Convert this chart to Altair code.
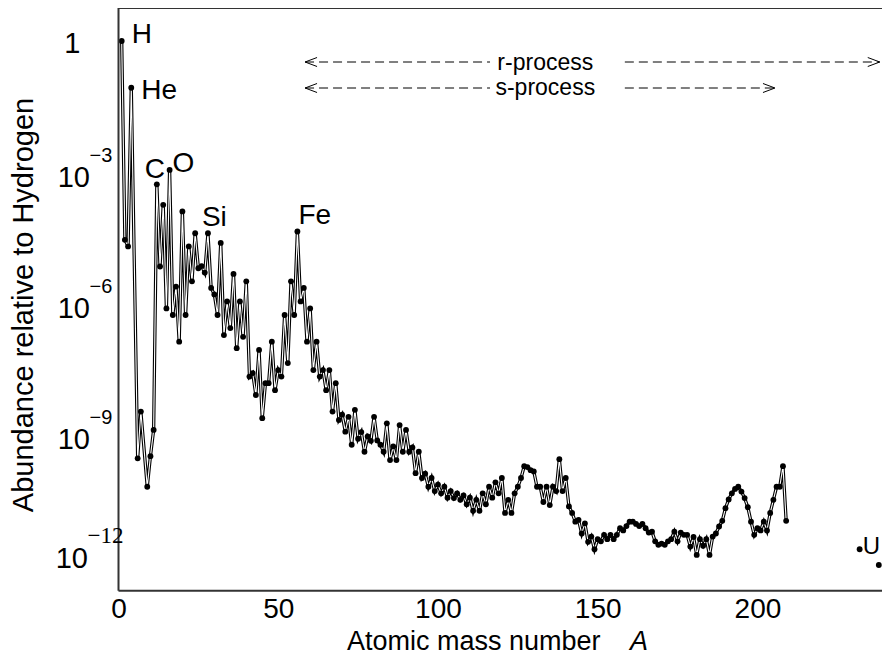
import altair as alt
import pandas as pd

# ---------------- data ----------------
# abundance relative to hydrogen, given as log10 values, by mass number A
mass_light = [1, 2, 3, 4, 6, 7]
log_light = [0.0, -4.55, -4.7, -1.07, -9.55, -8.48]

# A = 9 ... 209
mass_main = list(range(9, 210))
log_main = [
    -10.2, -9.5, -8.9, -3.28, -5.16, -3.75, -6.12, -2.95, -6.27, -5.62, -6.88,   # 9-19
    -3.9, -6.27, -4.7, -5.5, -4.4, -5.2, -5.15, -5.3, -4.4, -5.65,              # 20-29
    -5.8, -6.27, -4.62, -6.73, -5.96, -6.57, -5.33, -7.03, -5.96, -6.77,        # 30-39
    -5.5, -7.68, -7.6, -8.1, -7.07, -8.63, -7.83, -7.83, -6.88, -7.99,          # 40-49
    -7.53, -7.68, -6.27, -7.37, -5.5, -6.27, -4.36, -5.96, -5.65, -6.88,        # 50-59
    -6.12, -7.53, -6.88, -7.68, -7.53, -7.99, -7.53, -8.48, -7.83, -8.67,       # 60-69
    -8.55, -8.94, -8.6, -9.24, -8.44, -9.1, -8.95, -9.4, -9.05, -9.15,          # 70-79
    -8.6, -9.14, -9.24, -9.4, -8.75, -9.59, -9.28, -9.59, -8.79, -9.4,          # 80-89
    -8.9, -9.4, -9.3, -9.89, -9.4, -10.0, -9.9, -10.2, -10.0, -10.3,            # 90-99
    -10.15, -10.35, -10.2, -10.45, -10.3, -10.46, -10.35, -10.5, -10.4, -10.6,  # 100-109
    -10.45, -10.75, -10.5, -10.75, -10.35, -10.6, -10.2, -10.45, -10.1, -10.35, # 110-119
    -10.0, -10.8, -10.5, -10.8, -10.35, -10.2, -10.0, -9.73, -9.75, -9.82,      # 120-129
    -9.85, -10.2, -10.2, -10.55, -10.2, -10.62, -10.2, -10.3, -9.57, -10.3,     # 130-139
    -10.0, -10.65, -10.8, -11.0, -10.96, -11.27, -11.04, -11.46, -11.34, -11.63,  # 140-149
    -11.4, -11.45, -11.3, -11.4, -11.3, -11.4, -11.3, -11.15, -11.2, -11.1,     # 150-159
    -11.0, -11.0, -11.05, -11.1, -11.05, -11.15, -11.25, -11.23, -11.45, -11.53,  # 160-169
    -11.5, -11.53, -11.45, -11.4, -11.23, -11.45, -11.25, -11.3, -11.3, -11.57,   # 170-179
    -11.35, -11.76, -11.4, -11.55, -11.4, -11.76, -11.34, -11.27, -11.11, -10.98, # 180-189
    -10.69, -10.49, -10.35, -10.25, -10.2, -10.31, -10.46, -10.67, -11.0, -11.3,  # 190-199
    -11.15, -11.2, -11.0, -11.2, -10.8, -10.5, -10.2, -10.2, -9.73, -10.98,       # 200-209
]

# thorium and uranium, shown unconnected
mass_actinide = [232, 238]
log_actinide = [-11.63, -11.99]

# element labels
element_names = ["H", "He", "C", "O", "Si", "Fe", "U"]
element_mass = [1, 4, 12, 16, 28, 56, 238]

# axis ticks
x_tick_values = [0, 50, 100, 150, 200]
y_exponents = [-3, -6, -9]
y_exponent_text = ["\u22123", "\u22126", "\u22129"]

# process ranges (in A)
process_names = ["r-process", "s-process"]
process_start = [58.4, 58.4]
process_gap_left = [116.3, 116.3]
process_gap_right = [158.5, 158.5]
process_end = [238.3, 205.5]

# ---------------- tables ----------------
df = pd.DataFrame({"A": mass_light + mass_main, "logab": log_light + log_main})
df_act = pd.DataFrame({"A": mass_actinide, "logab": log_actinide})
lookup = dict(zip(df["A"], df["logab"]))
lookup.update(dict(zip(mass_actinide, log_actinide)))

W = 763.5
H = 582.7
FONT = "Liberation Sans"

xs = alt.Scale(domain=[0, 239], nice=False, zero=False)
ys = alt.Scale(domain=[-12.579, 0.755], nice=False, zero=False)

x_enc = alt.X(
    "A:Q", scale=xs,
    axis=alt.Axis(values=x_tick_values, ticks=False, domain=False, grid=False,
                  labelFont=FONT, labelFontSize=28, labelColor="black",
                  labelPadding=4.5, title=None, labelFlush=False),
)
y_enc = alt.Y("logab:Q", scale=ys, axis=None)

base = alt.Chart(df)
line_black = base.mark_line(color="black", strokeWidth=3.3).encode(x=x_enc, y=y_enc, order="A:Q")
line_white = base.mark_line(color="white", strokeWidth=1.1).encode(x=x_enc, y=y_enc, order="A:Q")
pts = base.mark_point(shape="circle", filled=True, size=34, color="black", opacity=1).encode(x=x_enc, y=y_enc)
pts_act = alt.Chart(df_act).mark_point(shape="circle", filled=True, size=34, color="black",
                                        opacity=1).encode(x=x_enc, y=y_enc)

one = alt.Data(values=[{"k": 0}])

# frame (left, top, bottom)
frame_left = alt.Chart(one).mark_rule(color="#333333", strokeWidth=2).encode(
    x=alt.value(0), y=alt.value(0), y2=alt.value(H))
frame_top = alt.Chart(one).mark_rule(color="#333333", strokeWidth=2).encode(
    x=alt.value(0), x2=alt.value(W), y=alt.value(0))
frame_bottom = alt.Chart(one).mark_rule(color="#333333", strokeWidth=2).encode(
    x=alt.value(0), x2=alt.value(W), y=alt.value(H))

# element labels
label_offsets = {  # dx, dy, font size relative to the element's point
    "H": (10, 2, 28), "He": (10, 11, 28), "C": (-12, -6, 28), "O": (3, 2, 28),
    "Si": (-6, -7, 28), "Fe": (1, -8, 28), "U": (-16, -11, 24),
}
elem_layers = []
for name, a in zip(element_names, element_mass):
    dx, dy, fs = label_offsets[name]
    d = pd.DataFrame({"A": [a], "logab": [lookup[a]], "t": [name]})
    elem_layers.append(
        alt.Chart(d).mark_text(font=FONT, fontSize=fs, align="left", baseline="alphabetic",
                               dx=dx, dy=dy, color="black")
        .encode(x=x_enc, y=y_enc, text="t:N"))

# y tick labels: 1, 10^-3 ... 10^-12
ylab_one = alt.Chart(pd.DataFrame({"logab": [0.0], "t": ["1"]})).mark_text(
    font=FONT, fontSize=29, align="right", baseline="alphabetic", dy=12, color="black"
).encode(x=alt.value(-38), y=y_enc, text="t:N")
df_ytick = pd.DataFrame({"logab": y_exponents, "t": ["10"] * 3, "e": y_exponent_text})
ylab_ten = alt.Chart(df_ytick).mark_text(
    font=FONT, fontSize=29, align="right", baseline="alphabetic", dy=14.5, color="black"
).encode(x=alt.value(-28.5), y=y_enc, text="t:N")
ylab_exp = alt.Chart(df_ytick).mark_text(
    font=FONT, fontSize=20, align="left", baseline="alphabetic", dy=-10, color="black"
).encode(x=alt.value(-29), y=y_enc, text="e:N")
df_y12 = pd.DataFrame({"logab": [-12], "t": ["10"], "e": ["\u221212"]})
ylab12_ten = alt.Chart(df_y12).mark_text(
    font=FONT, fontSize=29, align="right", baseline="alphabetic", dy=3, color="black"
).encode(x=alt.value(-30.5), y=y_enc, text="t:N")
ylab12_exp = alt.Chart(df_y12).mark_text(
    font="Liberation Serif", fontSize=23, align="left", baseline="alphabetic", dy=-22, color="black"
).encode(x=alt.value(-31), y=y_enc, text="e:N")

# axis titles
ytitle = alt.Chart(one).mark_text(
    text="Abundance relative to Hydrogen", font=FONT, fontSize=29, angle=270,
    align="center", baseline="middle", color="black"
).encode(x=alt.value(-95), y=alt.value(297))
xtitle = alt.Chart(one).mark_text(
    text="Atomic mass number", font=FONT, fontSize=27, align="left",
    baseline="alphabetic", color="black"
).encode(x=alt.value(228.5), y=alt.value(642))
xtitle_a = alt.Chart(one).mark_text(
    text="A", font=FONT, fontSize=27, fontStyle="italic", align="left",
    baseline="alphabetic", color="black"
).encode(x=alt.value(511.5), y=alt.value(642))

# process arrows
line_y = [54, 80]
text_y = [62, 87]
proc_layers = []
for i, name in enumerate(process_names):
    segs = pd.DataFrame({"a1": [process_start[i], process_gap_right[i]],
                         "a2": [process_gap_left[i], process_end[i]]})
    proc_layers.append(alt.Chart(segs).mark_rule(color="black", strokeWidth=1, strokeDash=[9, 5]).encode(
        x=alt.X("a1:Q", scale=xs), x2="a2:Q", y=alt.value(line_y[i])))
    heads = pd.DataFrame({"A": [process_start[i], process_end[i]],
                          "side": ["l", "r"]})
    proc_layers.append(alt.Chart(heads).transform_filter(alt.datum.side == "l").mark_point(
        shape="M 2.4 -0.9 L 0 0 L 2.4 0.9", size=100, filled=False, color="black", strokeWidth=1, opacity=1
    ).encode(x=alt.X("A:Q", scale=xs), y=alt.value(line_y[i])))
    proc_layers.append(alt.Chart(heads).transform_filter(alt.datum.side == "r").mark_point(
        shape="M -2.4 -0.9 L 0 0 L -2.4 0.9", size=100, filled=False, color="black", strokeWidth=1, opacity=1
    ).encode(x=alt.X("A:Q", scale=xs), y=alt.value(line_y[i])))
    proc_layers.append(alt.Chart(pd.DataFrame({"A": [133.6], "t": [name]})).mark_text(
        font=FONT, fontSize=23, align="center", baseline="alphabetic", color="black"
    ).encode(x=alt.X("A:Q", scale=xs), y=alt.value(text_y[i]), text="t:N"))

chart = alt.layer(
    line_black, line_white, pts, pts_act,
    frame_left, frame_top, frame_bottom,
    *elem_layers,
    ylab_one, ylab_ten, ylab_exp, ylab12_ten, ylab12_exp,
    ytitle, xtitle, xtitle_a,
    *proc_layers,
).properties(
    width=W, height=H,
    autosize=alt.AutoSizeParams(type="none"),
    padding={"left": 110.5, "top": 0, "right": 0, "bottom": 65.3},
    background="white",
).configure_view(stroke=None)

chart.save("out.html", embed_options={"renderer": "svg", "actions": False})
